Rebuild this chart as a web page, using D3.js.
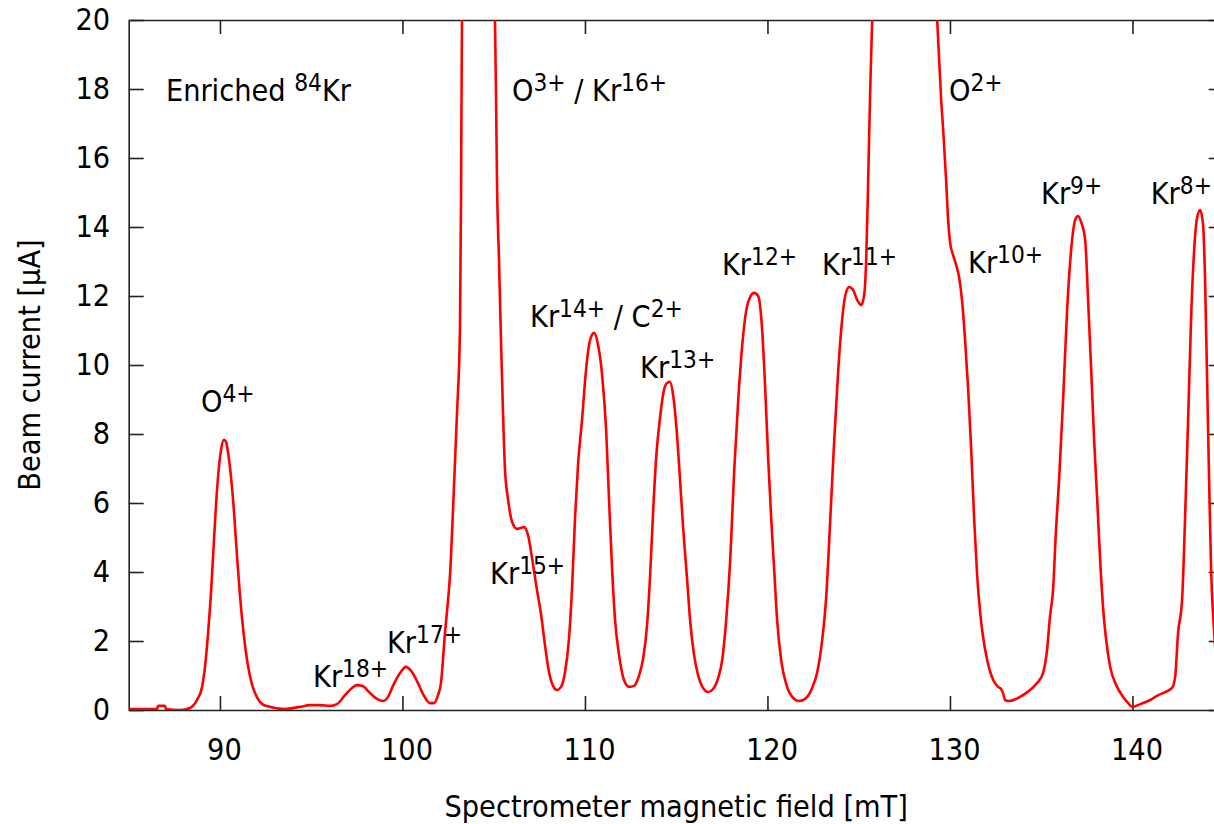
<!DOCTYPE html>
<html>
<head>
<meta charset="utf-8">
<script src="https://cdn.jsdelivr.net/npm/d3@7"></script>
<style>
  body { margin: 0; background: #fff; }
  svg { display: block; }
  text { font-family: "DejaVu Sans Condensed", "DejaVu Sans", sans-serif; font-stretch: condensed; fill: #000; }
</style>
</head>
<body>
<svg id="chart" width="1214" height="824"></svg>
<script>
// Magnet scan of the ion source output: field (mT) and measured beam current (µA)
const fieldMT = [
  85.00, 86.17, 86.55, 86.61, 86.99, 87.04, 87.81, 88.36, 88.74, 89.02,
  89.18, 89.35, 89.51, 89.67, 89.84, 90.06, 90.22, 90.33, 90.50, 90.72,
  90.93, 91.10, 91.30, 91.50, 91.75, 92.05, 92.50, 93.56, 94.38, 94.93,
  95.48, 96.03, 96.41, 96.85, 97.24, 97.51, 97.79, 98.22, 98.61, 98.93,
  99.21, 99.48, 99.87, 100.19, 100.52, 100.85, 101.18, 101.51, 101.73, 101.95,
  102.11, 102.33, 102.50, 102.61, 102.77, 102.99, 103.15, 103.21, 103.26, 104.10,
  105.07, 105.13, 105.18, 105.29, 105.40, 105.51, 105.62, 105.79, 106.01, 106.28,
  106.50, 106.67, 106.88, 107.16, 107.37, 107.60, 107.81, 108.03, 108.25, 108.47,
  108.69, 108.91, 109.13, 109.29, 109.46, 109.62, 109.84, 110.06, 110.28, 110.50,
  110.72, 110.94, 111.16, 111.32, 111.49, 111.65, 111.87, 112.14, 112.42, 112.69,
  112.97, 113.19, 113.41, 113.57, 113.74, 113.90, 114.12, 114.33, 114.50, 114.66,
  114.83, 115.05, 115.21, 115.38, 115.60, 115.76, 115.98, 116.20, 116.47, 116.75,
  117.02, 117.30, 117.52, 117.74, 117.96, 118.18, 118.40, 118.62, 118.84, 119.05,
  119.27, 119.49, 119.71, 119.88, 120.04, 120.21, 120.37, 120.53, 120.75, 121.03,
  121.36, 121.74, 122.12, 122.45, 122.73, 123.00, 123.22, 123.44, 123.66, 123.88,
  124.04, 124.26, 124.48, 124.70, 124.92, 125.14, 125.30, 125.41, 125.52, 125.63,
  125.74, 127.50, 129.30, 129.41, 129.52, 129.63, 129.79, 129.90, 130.01, 130.17,
  130.34, 130.50, 130.66, 130.83, 131.00, 131.16, 131.33, 131.49, 131.66, 131.82,
  132.04, 132.37, 132.64, 132.80, 132.91, 133.02, 133.24, 133.62, 134.00, 134.39,
  134.77, 135.10, 135.32, 135.48, 135.65, 135.81, 135.98, 136.20, 136.42, 136.64,
  136.86, 137.02, 137.19, 137.41, 137.57, 137.74, 137.90, 138.07, 138.23, 138.40,
  138.56, 138.78, 139.16, 139.49, 139.77, 139.99, 140.43, 140.97, 141.41, 141.79,
  142.17, 142.34, 142.50, 142.72, 142.88, 143.05, 143.21, 143.38, 143.54, 143.71,
  143.87, 143.98, 144.09, 144.20, 144.31, 144.47, 144.80
];
const currentUA = [
  0.03, 0.03, 0.03, 0.12, 0.12, 0.03, 0.00, 0.06, 0.29, 0.67,
  1.25, 2.23, 3.40, 4.90, 6.38, 7.54, 7.83, 7.77, 7.25, 6.09,
  4.50, 3.30, 2.20, 1.40, 0.75, 0.35, 0.12, 0.03, 0.09, 0.14,
  0.14, 0.12, 0.17, 0.43, 0.64, 0.72, 0.70, 0.49, 0.32, 0.26,
  0.38, 0.70, 1.07, 1.25, 1.10, 0.78, 0.41, 0.20, 0.20, 0.43,
  0.78, 2.23, 3.19, 3.94, 5.80, 8.61, 11.01, 14.78, 20.00, 34.00,
  20.00, 17.68, 15.36, 13.04, 10.72, 8.61, 6.96, 6.09, 5.45, 5.25,
  5.28, 5.30, 5.07, 4.20, 3.48, 2.75, 1.88, 1.10, 0.70, 0.58,
  0.67, 1.10, 2.10, 3.50, 5.60, 7.10, 8.41, 9.86, 10.72, 10.93,
  10.58, 9.71, 8.12, 6.09, 4.06, 2.61, 1.59, 0.87, 0.67, 0.70,
  1.01, 1.50, 2.50, 3.90, 5.80, 7.30, 8.50, 9.28, 9.48, 9.51,
  9.13, 7.94, 6.67, 5.28, 3.77, 2.61, 1.59, 1.01, 0.64, 0.52,
  0.61, 0.93, 1.45, 2.61, 4.35, 6.96, 8.99, 10.58, 11.59, 11.97,
  12.09, 12.00, 11.01, 9.28, 7.28, 5.51, 4.06, 2.61, 1.45, 0.75,
  0.38, 0.26, 0.35, 0.64, 1.10, 2.03, 3.28, 5.51, 7.83, 9.86,
  11.01, 12.00, 12.26, 12.17, 11.88, 11.74, 12.03, 13.04, 15.36, 17.97,
  20.00, 40.00, 20.00, 18.84, 17.68, 16.81, 15.36, 14.20, 13.54, 13.19,
  12.90, 12.55, 11.88, 10.72, 9.28, 7.60, 5.50, 3.90, 2.80, 2.10,
  1.45, 0.87, 0.67, 0.61, 0.49, 0.29, 0.26, 0.32, 0.43, 0.58,
  0.78, 1.07, 1.74, 2.70, 3.48, 5.22, 6.67, 8.99, 11.59, 13.33,
  14.20, 14.32, 14.14, 13.62, 11.88, 9.86, 7.83, 6.09, 4.35, 2.90,
  2.03, 1.25, 0.67, 0.38, 0.20, 0.09, 0.17, 0.29, 0.43, 0.52,
  0.64, 0.96, 2.23, 3.19, 5.51, 8.41, 11.30, 13.33, 14.26, 14.49,
  14.06, 12.46, 9.57, 6.67, 4.06, 2.32, 0.58
];

// Axis ticks
const xTickValues = [90, 100, 110, 120, 130, 140];
const yTickValues = [0, 2, 4, 6, 8, 10, 12, 14, 16, 18, 20];

// Peak annotations (^{...} marks a superscript), placed at (field, current) of the text baseline start
const labelText = [
  "Enriched ^{84}Kr", "O^{3+} / Kr^{16+}", "O^{2+}", "Kr^{9+}", "Kr^{8+}",
  "Kr^{12+}", "Kr^{11+}", "Kr^{10+}", "Kr^{14+} / C^{2+}", "Kr^{13+}",
  "O^{4+}", "Kr^{15+}", "Kr^{18+}", "Kr^{17+}"
];
const labelField = [87.04, 106.00, 129.95, 134.99, 141.00, 117.51, 122.99, 130.99, 106.99, 113.02, 88.96, 104.80, 95.10, 99.15];
const labelCurrent = [17.65, 17.65, 17.65, 14.67, 14.67, 12.61, 12.61, 12.67, 11.10, 9.62, 8.64, 3.65, 0.67, 1.65];

const xTitle = "Spectrometer magnetic field [mT]";
const yTitle = "Beam current [µA]";

const margin = { left: 128.7, top: 20 };
const plotW = 1095, plotH = 690;
const fontSize = 30.3;
const axisColor = "#222";

const svg = d3.select("#chart");

const x = d3.scaleLinear().domain([85, 145]).range([margin.left, margin.left + plotW]);
const y = d3.scaleLinear().domain([0, 20]).range([margin.top + plotH, margin.top]);

svg.append("defs").append("clipPath").attr("id", "plotClip")
  .append("rect")
  .attr("x", margin.left).attr("y", margin.top)
  .attr("width", plotW).attr("height", plotH);

function styleAxis(g) {
  g.selectAll("path, line").attr("stroke", axisColor).attr("stroke-width", 1.6);
  g.selectAll("text").attr("font-size", fontSize).attr("font-family", null).attr("fill", "#000");
}

// Bottom axis with labels, ticks pointing inward
svg.append("g")
  .attr("transform", `translate(0,${y(0)})`)
  .call(d3.axisBottom(x).tickValues(xTickValues).tickSizeInner(-14).tickSizeOuter(0)
    .tickPadding(28).tickFormat(d3.format("d")))
  .call(styleAxis)
  .call(g => g.selectAll("text").attr("dx", 4));

// Top mirror axis
svg.append("g")
  .attr("transform", `translate(0,${y(20)})`)
  .call(d3.axisTop(x).tickValues(xTickValues).tickSizeInner(-14).tickSizeOuter(0).tickFormat(""))
  .call(styleAxis);

// Left axis with labels
svg.append("g")
  .attr("transform", `translate(${x(85)},0)`)
  .call(d3.axisLeft(y).tickValues(yTickValues).tickSizeInner(-15).tickSizeOuter(0)
    .tickPadding(18.5).tickFormat(d3.format("d")))
  .call(styleAxis);

// Right mirror axis
svg.append("g")
  .attr("transform", `translate(${x(145)},0)`)
  .call(d3.axisRight(y).tickValues(yTickValues).tickSizeInner(-15).tickSizeOuter(0).tickFormat(""))
  .call(styleAxis);

// Beam current trace
const points = fieldMT.map((f, i) => [f, currentUA[i]]);
const line = d3.line()
  .x(d => x(d[0]))
  .y(d => y(d[1]))
  .curve(d3.curveMonotoneX);

svg.append("path")
  .datum(points)
  .attr("clip-path", "url(#plotClip)")
  .attr("fill", "none")
  .attr("stroke", "#ff0000")
  .attr("stroke-width", 2.6)
  .attr("stroke-linejoin", "round")
  .attr("d", line);

// Annotations with superscripts
const supShift = 10;
labelText.forEach((txt, i) => {
  const t = svg.append("text")
    .attr("x", x(labelField[i]))
    .attr("y", y(labelCurrent[i]))
    .attr("font-size", fontSize)
    .style("white-space", "pre");
  const parts = txt.split(/(\^\{[^}]*\})/).filter(s => s.length);
  let raised = false;
  parts.forEach(p => {
    const isSup = p.startsWith("^{");
    const content = isSup ? p.slice(2, -1) : p;
    const span = t.append("tspan").text(content);
    if (isSup) {
      span.attr("font-size", fontSize * 0.8).attr("dy", raised ? 0 : -supShift);
      raised = true;
    } else {
      span.attr("dy", raised ? supShift : 0);
      raised = false;
    }
  });
});

// Axis titles
svg.append("text")
  .attr("x", x(115))
  .attr("y", 817)
  .attr("text-anchor", "middle")
  .attr("font-size", fontSize)
  .text(xTitle);

svg.append("text")
  .attr("transform", `translate(40,${y(10)}) rotate(-90)`)
  .attr("text-anchor", "middle")
  .attr("font-size", fontSize)
  .text(yTitle);
</script>
</body>
</html>
